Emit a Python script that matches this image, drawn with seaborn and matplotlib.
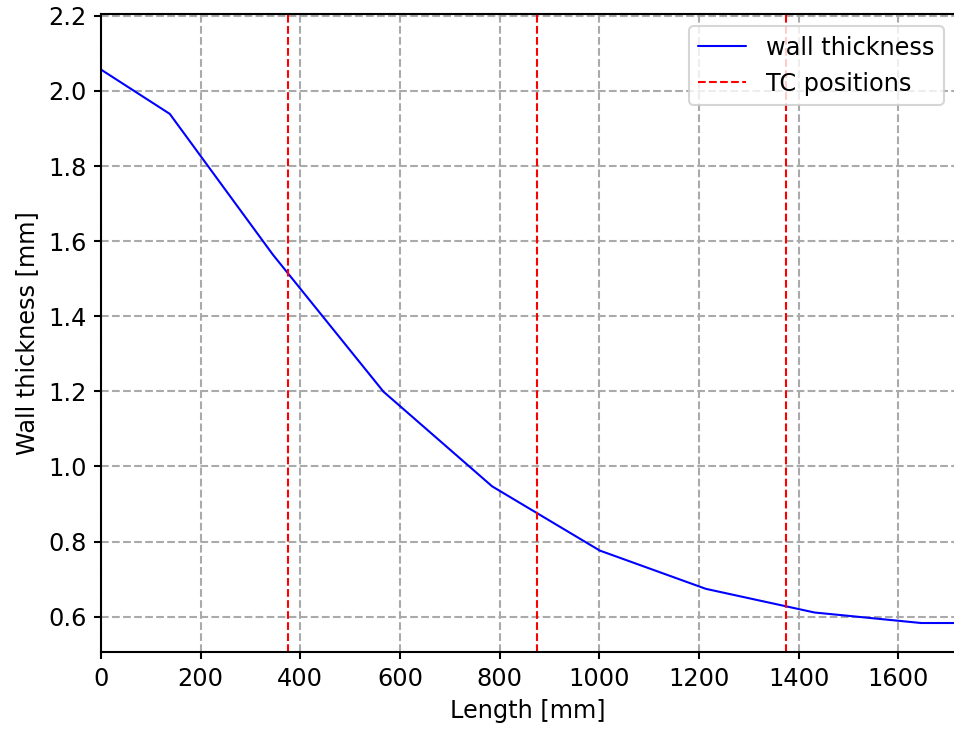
import matplotlib
matplotlib.use("Agg")
import matplotlib.pyplot as plt
import seaborn as sns
import pandas as pd

length_mm = [0, 138, 345, 567, 785, 1001, 1214, 1432, 1646, 1715]
wall_thickness_mm = [2.057, 1.939, 1.564, 1.199, 0.947, 0.776, 0.674, 0.611, 0.583, 0.583]
tc_positions = [375, 875, 1375]

sns.set_style("ticks")
plt.rcParams['font.family'] = ['DejaVu Sans']
plt.rcParams['font.size'] = 11.5
plt.rcParams['text.color'] = 'black'
plt.rcParams['axes.labelcolor'] = 'black'

fig = plt.figure(figsize=(6.36, 4.86), dpi=150)
ax = fig.add_axes([101/954, 1-652.3/729, (955.5-101)/954, (652.3-14)/729])

df = pd.DataFrame({"Length [mm]": length_mm, "Wall thickness [mm]": wall_thickness_mm})
sns.lineplot(data=df, x="Length [mm]", y="Wall thickness [mm]", ax=ax,
             color="blue", linewidth=1, label="wall thickness")
for i, p in enumerate(tc_positions):
    ax.axvline(p, color="red", linestyle="--", linewidth=1,
               label="TC positions" if i == 0 else None)

ax.set_xlim(0, 1715)
ax.set_ylim(0.505, 2.205)
ax.set_xticks(range(0, 1601, 200))
ax.set_yticks([0.6, 0.8, 1.0, 1.2, 1.4, 1.6, 1.8, 2.0, 2.2])
ax.grid(True, color="#aaaaaa", linestyle="--", linewidth=1)
ax.set_axisbelow(True)
for s in ax.spines.values():
    s.set_linewidth(1)
    s.set_color("black")
ax.tick_params(direction="out", length=3.5, width=1, colors="black", labelsize=11.5)
ax.xaxis.label.set_size(11.5)
ax.yaxis.label.set_size(11.5)
ax.legend(loc="upper right", framealpha=0.8, fontsize=11.5)

fig.savefig("out.png", dpi=150)
